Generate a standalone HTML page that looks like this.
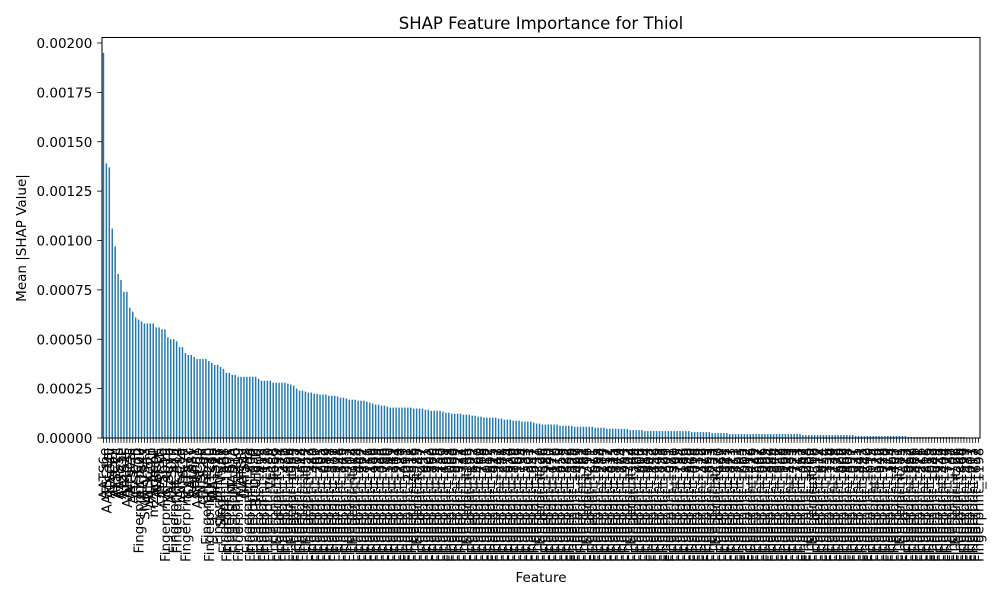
<!DOCTYPE html>
<html><head><meta charset="utf-8"><style>
body{margin:0;background:#fff}
svg{display:block;font-family:"DejaVu Sans","Liberation Sans",sans-serif}
</style></head><body>
<svg id="chart" width="1000" height="600">
<text x="541" y="29" font-size="16.5" text-anchor="middle">SHAP Feature Importance for Thiol</text>
<text transform="translate(26,238) rotate(-90)" font-size="13.5" text-anchor="middle">Mean |SHAP Value|</text>
<text x="541" y="582" font-size="13.5" text-anchor="middle">Feature</text>
<g id="bars"></g>
<g id="xticks"></g>
<g id="yticks"></g>
<rect x="102" y="37.5" width="878" height="400.5" fill="none" stroke="#000" stroke-width="1"/>
</svg>
<script>
const values = [0.00195,0.00139,0.00137,0.00106,0.00097,0.00083,0.00080,0.00074,0.00074,0.00066,0.00064,0.00061,0.00060,0.00059,0.00058,0.00058,0.00058,0.00058,0.00056,0.00056,0.00055,0.00055,0.00051,0.00050,0.00050,0.00049,0.00046,0.00046,0.00043,0.00042,0.00042,0.00041,0.00040,0.00040,0.00040,0.00040,0.00039,0.00038,0.00037,0.00037,0.00036,0.00035,0.00033,0.00033,0.00032,0.00032,0.00031,0.00031,0.00031,0.00031,0.00031,0.00031,0.00031,0.00030,0.00029,0.00029,0.00029,0.00029,0.00028,0.00028,0.00028,0.00028,0.00028,0.000275,
0.00027,0.000265,0.00025,0.00024,0.00024,0.000235,0.00023,0.00023,0.000224,0.000224,0.00022,0.00022,0.00022,0.000214,0.000214,0.000214,0.00021,0.000204,0.000204,0.0002,0.000194,0.000194,0.000194,0.000189,0.000189,0.000189,0.000184,0.000179,0.000174,0.000169,0.000169,0.000164,0.000164,0.000159,
0.000154,0.000154,0.000154,0.000154,0.000154,0.000154,0.000154,0.000154,0.000149,0.000149,0.000149,0.000149,0.000143,0.000143,0.000138,0.000138,0.000138,0.000138,0.000133,0.000128,0.000128,0.000123,0.000123,0.000123,0.000123,0.000118,0.000118,0.000118,0.000113,0.000113,0.000108,0.000108,
0.000103,0.000103,0.000103,0.000103,0.000103,0.000098,0.000098,0.000093,0.000093,0.000093,0.000088,0.000088,0.000088,0.000083,0.000083,0.000083,0.000083,0.000078,0.000073,0.000073,0.000068,0.000068,0.000068,0.000068,0.000068,0.000068,0.000062,0.000062,0.000062,0.000062,0.000062,
0.000057,0.000057,0.000057,0.000057,0.000057,0.000057,0.000057,0.000052,0.000052,0.000052,0.000052,0.000047,0.000047,0.000047,0.000047,0.000047,
0.000046,0.000046,0.000046,0.00004,0.00004,0.00004,0.00004,0.00004,
0.000035,0.000035,0.000035,0.000035,0.000035,0.000035,0.000035,0.000035,0.000035,0.000035,0.000035,0.000035,0.000035,0.000035,0.000035,0.000035,
0.00003,0.00003,0.00003,0.00003,0.00003,0.00003,0.00003,0.000025,0.000025,0.000025,0.000025,0.000025,0.000025,
0.00002,0.00002,0.00002,0.00002,0.00002,0.00002,0.00002,0.00002,0.00002,0.00002,0.00002,0.00002,0.00002,0.00002,0.00002,0.00002,0.00002,0.00002,0.00002,0.00002,0.00002,0.00002,0.00002,0.00002,0.00002,
0.000015,0.000015,0.000015,0.000015,0.000015,0.000015,0.000015,0.000015,0.000015,0.000015,0.000015,0.000015,0.000015,0.000015,0.000015,0.000015,0.000015,0.000015,
0.00001,0.00001,0.00001,0.00001,0.00001,0.00001,0.00001,0.00001,0.00001,0.00001,0.00001,0.00001,0.00001,0.00001,0.00001,0.00001,0.00001,0.00001,
0.000005,0.000005,0.000005,0.000005,0.000005,0.000005,0.000005,0.000005,0.000005,0.000005,0.000005,0.000005,0.000005,0.000005,0.000005,0.000005,0.000005,0.000005,0.000005,0.000005,
0.000001,0.000001,0.000001,0.000001,0.000001];
const shortNames = "AATS6e AATSC1m ATSC4v AATS3i ATSC2c AATS5p ATSC1e AATS2s AATSC3c ATSC5i AATS7m ATSC3p Fingerprint_602 AATS4v SMR_VSA3 ATSC6m AATSC2p mZagreb1 ATSC0c AATS1i AATSC5e Fingerprint_1019 ATSC7p AATS0m Fingerprint_875 Fingerprint_314 ATSC8e AATSC4i Fingerprint_1577 GATS1c AATS8v SpMin1 AATSC6p ATSC3v GATS2m Fingerprint_96 Fingerprint_1230 AATS6p MATS1e Fingerprint_47 SlogP_VSA2 Fingerprint_888 Fingerprint_1501 Fingerprint_655 SpMAD_A Fingerprint_210 Fingerprint_1399 MATS3i GATS4s Fingerprint_733 Fingerprint_1806 Fingerprint_352 BCUTc-1l Fingerprint_1902 Fingerprint_415 Fingerprint_1123 Fingerprint_580 VE1_A Fingerprint_1688 Fingerprint_99 Fingerprint_1334 Fingerprint_271 Fingerprint_1450 Fingerprint_806 Fingerprint_64 Fingerprint_1975".split(" ");
const fpNumbers = [1207,318,1644,57,923,1389,440,1761,205,1032,689,1518,377,1901,128,846,1275,593,1702,14,968,1444,262,1827,711,1159,486,1993,335,1066,780,1560,149,1311,904,1728,433,1091,2011,618,1376,83,1247,957,1621,502,1860,276,1135,750,1489,191,1008,1683,399,1922,571,1344,35,1199,822,1587,460,1768,118,1052,697,1415,1947,241,1288,875,1614,529,1809,166,1103,734,1533,301,1957,642,1231,20,1396,989,1740,477,1170,810,1658,223,1882,556,1328,1027,1499,361,1783,96,1211,671,1565,1938,284,1117,852,1431,515,1847,179,1264,933,1702,44,1368,764,1603,419,1984,603,1142,1458,249,1893,728,1305,1071,1521,390,1795,134,1186,899,1640,468,1013,1739,312,1479,1865,653,1253,77,1420,962,1571,547,1823,211,1351,793,1665,1002,1912,426,1229,1547,687,1096,295,1804,1386,844,1627,158,1968,1193,583,1455,721,1713,367,1042,1288,1900,62,1510,912,1674,454,1356,1124,239,1778,626,1402,1969,808,1597,1057,335,1841,493,1242,1690,1015,174,1526,942,1929,710,1373,1164,405,1751,85,1325,1613,567,1986,886,1471,1216,261,1816,659,1083,1549,1925,349,1404,773,1138,1707,26,1296,1864,599,1437,1001,217,1652,1198,760,1518,1952,384,1280,1095,1730,526,1361];
const categories = shortNames.concat(fpNumbers.slice(0, values.length - shortNames.length).map(n => "Fingerprint_" + n));
const yTicks = [0, 0.00025, 0.0005, 0.00075, 0.001, 0.00125, 0.0015, 0.00175, 0.002];
const yTickLabels = ["0.00000","0.00025","0.00050","0.00075","0.00100","0.00125","0.00150","0.00175","0.00200"];

const NS = "http://www.w3.org/2000/svg";
const X0 = 102, X1 = 980, Y0 = 438, PXPER = 197.5 / 0.001;
const n = values.length;
const step = (X1 - X0) / n;
const xScale = i => X0 + (i + 0.5) * step;
const yScale = v => Y0 - v * PXPER;

const barsG = document.getElementById("bars");
const xt = document.getElementById("xticks");
const yt = document.getElementById("yticks");
values.forEach((v, i) => {
  const r = document.createElementNS(NS, "rect");
  const w = step * 0.5;
  r.setAttribute("x", xScale(i) - w / 2);
  r.setAttribute("y", yScale(v));
  r.setAttribute("width", w);
  r.setAttribute("height", Math.max(0, Y0 - yScale(v)));
  r.setAttribute("fill", "#1f77b4");
  
  
  barsG.appendChild(r);
  const t = document.createElementNS(NS, "line");
  t.setAttribute("x1", xScale(i)); t.setAttribute("x2", xScale(i));
  t.setAttribute("y1", Y0); t.setAttribute("y2", Y0 + 4.9);
  t.setAttribute("stroke", "#000"); t.setAttribute("stroke-width", "0.8");
  
  
  xt.appendChild(t);
  const lb = document.createElementNS(NS, "text");
  lb.setAttribute("transform", "translate(" + (xScale(i) + 5) + "," + (Y0 + 9.7) + ") rotate(-90)");
  lb.setAttribute("font-size", "13.5");
  lb.setAttribute("text-anchor", "end");
  lb.textContent = categories[i];
  
  
  xt.appendChild(lb);
});
yTicks.forEach((v, k) => {
  const t = document.createElementNS(NS, "line");
  t.setAttribute("x1", X0 - 4.9); t.setAttribute("x2", X0);
  t.setAttribute("y1", yScale(v)); t.setAttribute("y2", yScale(v));
  t.setAttribute("stroke", "#000"); t.setAttribute("stroke-width", "0.8");
  
  
  yt.appendChild(t);
  const lb = document.createElementNS(NS, "text");
  lb.setAttribute("x", X0 - 9.7);
  lb.setAttribute("y", yScale(v) + 5);
  lb.setAttribute("font-size", "13.5");
  lb.setAttribute("text-anchor", "end");
  lb.textContent = yTickLabels[k];
  
  
  yt.appendChild(lb);
});
</script>
</body></html>
